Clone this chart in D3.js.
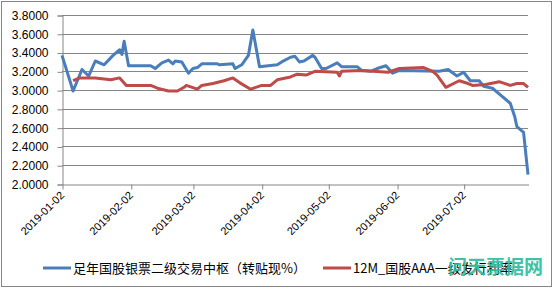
<!DOCTYPE html>
<html>
<head>
    <meta charset="utf-8" />
    <title>国股银票利率</title>
    <script src="https://d3js.org/d3.v7.min.js"></script>
    <style>
        body { margin: 0; background: #fff; }
        text { font-family: "Liberation Sans", Arial, sans-serif; fill: #000; }
        .cjk { font-family: "Noto Sans CJK SC", sans-serif; }
    </style>
</head>
<body>
    <div id="chart"></div>
    <script>
        // blue series: 足年国股银票二级交易中枢（转贴现%）
        const blueDates = ["2019-01-02","2019-01-07","2019-01-11","2019-01-14","2019-01-17","2019-01-21","2019-01-25","2019-01-28","2019-01-29","2019-01-30","2019-02-01","2019-02-11","2019-02-13","2019-02-16","2019-02-19","2019-02-21","2019-02-22","2019-02-25","2019-02-28","2019-03-02","2019-03-04","2019-03-06","2019-03-13","2019-03-14","2019-03-20","2019-03-21","2019-03-24","2019-03-27","2019-03-29","2019-04-01","2019-04-09","2019-04-11","2019-04-15","2019-04-17","2019-04-19","2019-04-21","2019-04-25","2019-04-26","2019-04-29","2019-05-01","2019-05-06","2019-05-08","2019-05-15","2019-05-17","2019-05-21","2019-05-24","2019-05-28","2019-05-31","2019-06-03","2019-06-21","2019-06-25","2019-06-29","2019-07-02","2019-07-05","2019-07-09","2019-07-11","2019-07-15","2019-07-18","2019-07-23","2019-07-25","2019-07-26","2019-07-29","2019-07-31"];
        const blueValues = [3.37,2.99,3.22,3.15,3.31,3.27,3.37,3.43,3.38,3.52,3.26,3.26,3.23,3.29,3.32,3.28,3.31,3.30,3.18,3.23,3.24,3.28,3.28,3.27,3.28,3.23,3.27,3.37,3.64,3.25,3.27,3.30,3.35,3.36,3.30,3.31,3.37,3.35,3.23,3.23,3.29,3.25,3.25,3.21,3.20,3.23,3.26,3.18,3.21,3.20,3.22,3.15,3.19,3.10,3.10,3.04,3.02,2.96,2.86,2.72,2.61,2.55,2.10];

        // red series: 12M_国股AAA一级发行利率
        const redDates = ["2019-01-07","2019-01-10","2019-01-17","2019-01-24","2019-01-28","2019-01-31","2019-02-11","2019-02-14","2019-02-19","2019-02-23","2019-02-26","2019-02-27","2019-03-04","2019-03-06","2019-03-11","2019-03-16","2019-03-20","2019-03-23","2019-03-28","2019-04-02","2019-04-06","2019-04-09","2019-04-15","2019-04-18","2019-04-22","2019-04-26","2019-05-06","2019-05-07","2019-05-08","2019-05-17","2019-05-29","2019-06-03","2019-06-14","2019-06-18","2019-06-20","2019-06-24","2019-06-30","2019-07-04","2019-07-06","2019-07-12","2019-07-18","2019-07-23","2019-07-26","2019-07-29","2019-07-31"];
        const redValues = [3.10,3.13,3.13,3.11,3.13,3.05,3.05,3.02,2.99,2.99,3.03,3.05,3.01,3.05,3.07,3.10,3.13,3.08,3.01,3.05,3.05,3.11,3.14,3.17,3.16,3.20,3.19,3.15,3.20,3.21,3.19,3.23,3.24,3.20,3.16,3.03,3.10,3.07,3.05,3.06,3.09,3.05,3.07,3.07,3.03];

        const yTicks = [2.0,2.2,2.4,2.6,2.8,3.0,3.2,3.4,3.6,3.8];
        const xTickLabels = ["2019-01-02","2019-02-02","2019-03-02","2019-04-02","2019-05-02","2019-06-02","2019-07-02"];
        const seriesNames = ["足年国股银票二级交易中枢（转贴现%）", "12M_国股AAA一级发行利率"];
        const colors = ["#4a7ebb", "#be4b48"];

        const width = 554, height = 289;
        const parse = d3.timeParse("%Y-%m-%d");

        const svg = d3.select("#chart").append("svg")
            .attr("width", width)
            .attr("height", height);

        svg.append("rect")
            .attr("x", 1.5).attr("y", 1.5)
            .attr("width", 550).attr("height", 285)
            .attr("fill", "#fff")
            .attr("stroke", "#868686");

        const x = d3.scaleTime()
            .domain([parse("2019-01-02"), parse("2019-07-31")])
            .range([62, 528]);
        const y = d3.scaleLinear().domain([2.0, 3.8]).range([184, 15]);

        // gridlines
        svg.append("g").selectAll("line")
            .data(yTicks.slice(1))
            .enter().append("line")
            .attr("x1", 62).attr("x2", 528)
            .attr("y1", d => Math.round(y(d)) + 0.5)
            .attr("y2", d => Math.round(y(d)) + 0.5)
            .attr("stroke", "#868686");

        // y axis
        const yAxis = svg.append("g")
            .attr("transform", "translate(62.5,0.5)")
            .call(d3.axisLeft(y).tickValues(yTicks).tickFormat(d3.format(".4f")).tickSize(5).tickPadding(9));
        yAxis.select(".domain").attr("stroke", "#868686");
        yAxis.selectAll(".tick line").attr("stroke", "#868686");
        yAxis.selectAll("text").style("font-size", "12px").attr("fill", "#000");

        // x axis (labels drawn separately so they can be rotated)
        const xAxis = svg.append("g")
            .attr("transform", "translate(0.5,184.5)")
            .call(d3.axisBottom(x).tickValues(xTickLabels.map(parse)).tickFormat("").tickSize(5).tickSizeOuter(0));
        xAxis.select(".domain").attr("stroke", "#868686");
        xAxis.selectAll(".tick line").attr("stroke", "#868686");

        svg.append("g").selectAll("text")
            .data(xTickLabels)
            .enter().append("text")
            .attr("transform", d => "translate(" + (x(parse(d)) + 3) + ",196) rotate(-45)")
            .attr("text-anchor", "end")
            .style("font-size", "11px")
            .text(d => d);

        // lines
        const line = d3.line().x(d => x(d[0])).y(d => y(d[1]));
        const blue = blueDates.map((d, i) => [parse(d), blueValues[i]]);
        const red = redDates.map((d, i) => [parse(d), redValues[i]]);

        [blue, red].forEach((s, i) => {
            svg.append("path")
                .datum(s)
                .attr("fill", "none")
                .attr("stroke", colors[i])
                .attr("stroke-width", 3)
                .attr("stroke-linejoin", "round")
                .attr("d", line);
        });

        // legend
        const legendPos = [43, 323];
        seriesNames.forEach((name, i) => {
            svg.append("line")
                .attr("x1", legendPos[i]).attr("x2", legendPos[i] + 28)
                .attr("y1", 268).attr("y2", 268)
                .attr("stroke", colors[i]).attr("stroke-width", 3);
            svg.append("text")
                .attr("class", "cjk")
                .attr("x", legendPos[i] + 30).attr("y", 273)
                .style("font-size", "13px")
                .text(name);
        });

        // watermark
        svg.append("text")
            .attr("class", "cjk")
            .attr("x", 448).attr("y", 274)
            .style("font-size", "19px")
            .style("font-weight", "bold")
            .style("fill", "#2dbb9c")
            .style("opacity", 0.9)
            .text("问天票据网");
    </script>
</body>
</html>
